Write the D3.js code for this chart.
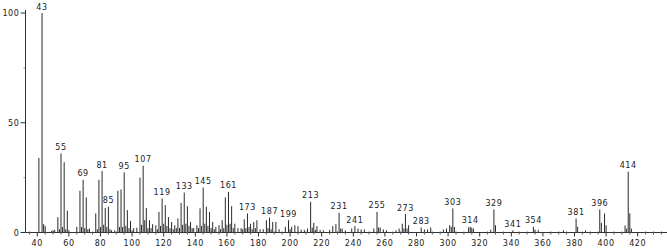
<!DOCTYPE html>
<html>
<head>
<meta charset="utf-8">
<script src="https://cdn.jsdelivr.net/npm/d3@7"></script>
<style>
  body { margin: 0; background: #fff; }
  text { font-family: "DejaVu Sans", sans-serif; font-size: 8px; fill: #222; letter-spacing: 0.6px; }
</style>
</head>
<body>
<div id="chart"></div>
<script>
// m/z and relative abundance
var mz = [41, 43, 44, 45, 49, 50, 51, 53, 54, 55, 56, 57, 58, 59, 60, 65, 67, 68, 69, 70,
  71, 72, 73, 77, 78, 79, 80, 81, 82, 83, 84, 85, 86, 87, 89, 91, 92, 93, 94, 95,
  96, 97, 98, 99, 100, 101, 103, 105, 106, 107, 108, 109, 110, 111, 112, 113, 115, 116, 117, 118,
  119, 120, 121, 122, 123, 124, 125, 126, 127, 128, 129, 130, 131, 132, 133, 134, 135, 136, 137, 138,
  139, 141, 142, 143, 144, 145, 146, 147, 148, 149, 150, 151, 152, 153, 155, 156, 157, 158, 159, 160,
  161, 162, 163, 164, 165, 167, 169, 170, 171, 172, 173, 174, 175, 176, 177, 178, 179, 181, 183, 185,
  186, 187, 188, 189, 191, 193, 197, 199, 200, 201, 203, 205, 207, 209, 211, 213, 214, 215, 216, 217,
  219, 221, 225, 227, 229, 231, 232, 233, 235, 239, 241, 243, 245, 247, 253, 255, 256, 257, 259, 261,
  267, 269, 271, 272, 273, 274, 275, 283, 285, 287, 289, 297, 299, 301, 302, 303, 304, 313, 314, 315,
  316, 327, 329, 330, 341, 354, 355, 357, 373, 381, 382, 387, 396, 397, 399, 400, 412, 413, 414, 415, 416];

var abundance = [34, 100, 3.8, 3, 0.7, 1, 1.2, 7, 1.5, 36, 2.5, 32, 1.5, 10, 1, 2.6, 19, 2.5, 24, 2,
  16, 1.5, 1.8, 8.7, 1.5, 24, 2.5, 28, 3.5, 11.2, 2.5, 11.7, 1.5, 1, 1, 19, 2.5, 19.6, 2.5, 27.4,
  3, 10.2, 2, 5.3, 1, 2, 2.2, 25, 3.5, 30.4, 5.6, 11.2, 2, 5.6, 2, 3.8, 3.3, 1.5, 9.4, 3,
  15.5, 4, 12.5, 3, 7, 2, 4.8, 1.5, 3.3, 2, 6.4, 2, 13.5, 3.5, 18.2, 4, 12, 3, 4.8, 2,
  2, 3.3, 2, 11, 3, 20.5, 4, 11.7, 3, 9.4, 2, 4.8, 1.5, 2.5, 3.3, 1.5, 5.6, 2, 16, 3.5,
  18.5, 4, 12, 2, 4, 2, 2, 1.5, 6, 2, 8.7, 2.5, 4, 1.5, 4.8, 2, 5.6, 1.5, 1.5, 5.6,
  2, 6.8, 1.5, 4.8, 4.8, 1.5, 2.6, 5.6, 1.5, 2.6, 3.3, 2.9, 1.3, 1.2, 1.8, 14, 2.3, 4.4, 1.2, 2.9,
  1.2, 1, 1.2, 2.9, 3.8, 9, 1.8, 1.8, 1, 1.8, 2.9, 1.8, 1.4, 1.4, 1.8, 9.4, 2.3, 2.3, 1.4, 1,
  1, 1.8, 4, 1.8, 8.4, 1.8, 3.3, 2.3, 1.4, 1.4, 2.3, 1.4, 1.8, 3.3, 2.6, 11, 2.5, 2.3, 2.6, 2.2,
  1.8, 1.3, 10.5, 3.3, 1, 2.6, 1.3, 1.2, 1, 6.4, 2.6, 1, 10.5, 4.4, 8.7, 3.3, 3.2, 1.8, 27.7, 8.7, 1.8];

var labeledMz = [43, 55, 69, 81, 85, 95, 107, 119, 133, 145, 161, 173, 187, 199, 213,
  231, 241, 255, 273, 283, 303, 314, 329, 341, 354, 381, 396, 414];

var xTicks = [40, 60, 80, 100, 120, 140, 160, 180, 200, 220, 240, 260, 280, 300, 320, 340, 360, 380, 400, 420];
var yTicks = [0, 50, 100];

var width = 667, height = 249;

var peaks = mz.map(function (m, i) { return { mz: m, y: abundance[i] }; });

var svg = d3.select("#chart")
  .append("svg")
  .attr("width", width)
  .attr("height", height);

var x = d3.scaleLinear().domain([40, 420]).range([37.3, 637.7]);
var y = d3.scaleLinear().domain([0, 100]).range([232.5, 13]);

var axisLeft = 25.5, axisRight = 667;

// peaks
svg.append("g")
  .selectAll("line")
  .data(peaks)
  .join("line")
  .attr("x1", function (d) { return x(d.mz); })
  .attr("x2", function (d) { return x(d.mz); })
  .attr("y1", y(0))
  .attr("y2", function (d) { return y(d.y); })
  .style("stroke", "#2a2a2a")
  .style("stroke-width", 1);

// x axis
var xAxis = svg.append("g");
xAxis.append("line")
  .attr("x1", axisLeft).attr("x2", axisRight)
  .attr("y1", y(0)).attr("y2", y(0))
  .style("stroke", "#333");

var minor = d3.range(35, 440, 5).filter(function (v) { return v % 20 !== 0; });
xAxis.selectAll(".minor")
  .data(minor)
  .join("line")
  .attr("class", "minor")
  .attr("x1", function (d) { return x(d); })
  .attr("x2", function (d) { return x(d); })
  .attr("y1", y(0) - 1)
  .attr("y2", y(0) + 2)
  .style("stroke", "#555");

xAxis.selectAll(".major")
  .data(xTicks)
  .join("line")
  .attr("class", "major")
  .attr("x1", function (d) { return x(d); })
  .attr("x2", function (d) { return x(d); })
  .attr("y1", y(0))
  .attr("y2", y(0) + 4)
  .style("stroke", "#333");

xAxis.selectAll("text")
  .data(xTicks)
  .join("text")
  .attr("x", function (d) { return x(d); })
  .attr("y", 246)
  .attr("text-anchor", "middle")
  .text(function (d) { return d; });

// y axis
var yAxis = svg.append("g");
yAxis.append("line")
  .attr("x1", axisLeft).attr("x2", axisLeft)
  .attr("y1", 10).attr("y2", y(0))
  .style("stroke", "#333");

yAxis.selectAll(".ytick")
  .data(yTicks)
  .join("line")
  .attr("class", "ytick")
  .attr("x1", axisLeft - 5).attr("x2", axisLeft)
  .attr("y1", function (d) { return y(d); })
  .attr("y2", function (d) { return y(d); })
  .style("stroke", "#333");

yAxis.selectAll(".yminor")
  .data([25, 75])
  .join("line")
  .attr("class", "yminor")
  .attr("x1", axisLeft - 2).attr("x2", axisLeft)
  .attr("y1", function (d) { return y(d); })
  .attr("y2", function (d) { return y(d); })
  .style("stroke", "#888");

yAxis.selectAll("text")
  .data(yTicks)
  .join("text")
  .attr("x", 19.5)
  .attr("y", function (d) { return y(d) + 3; })
  .attr("text-anchor", "end")
  .text(function (d) { return d; });

// peak labels
svg.append("g")
  .selectAll("text")
  .data(peaks.filter(function (d) { return labeledMz.indexOf(d.mz) >= 0; }))
  .join("text")
  .attr("x", function (d) { return x(d.mz); })
  .attr("y", function (d) { return y(d.y) - 3.5; })
  .attr("text-anchor", "middle")
  .text(function (d) { return d.mz; });
</script>
</body>
</html>
